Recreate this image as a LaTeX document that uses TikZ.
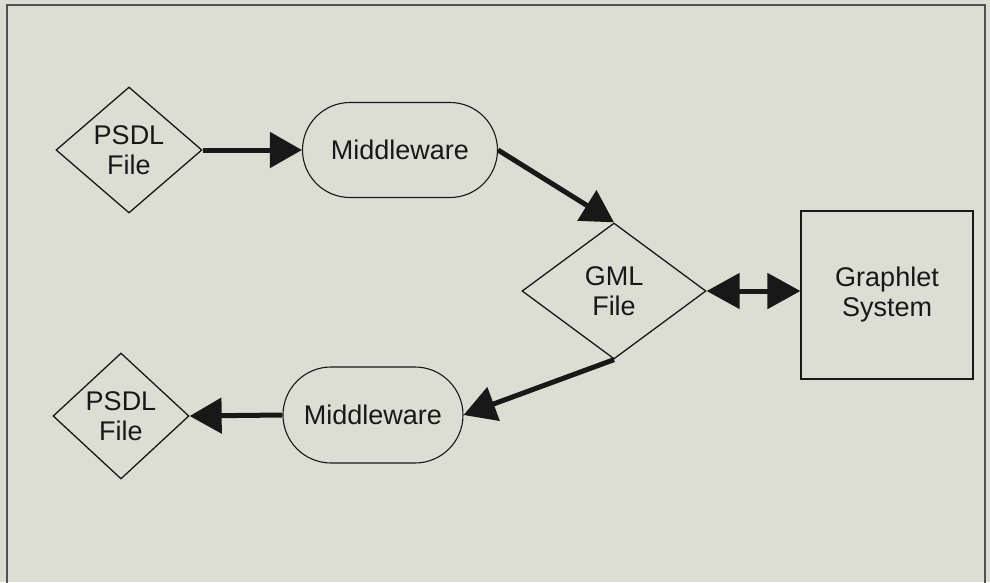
\documentclass[tikz,border=0pt]{standalone}
\usepackage{fontspec}
\setmainfont{Liberation Sans}
\usetikzlibrary{shapes.geometric,shapes.misc,arrows.meta}
\definecolor{paper}{RGB}{220,221,211}
\definecolor{ink}{RGB}{24,24,24}
\tikzset{
  lbl/.style={font=\fontsize{27}{30}\selectfont, text=ink, align=center, inner sep=0pt},
  filebox/.style={lbl, diamond, draw=ink, line width=1.3pt},
  procbox/.style={lbl, rounded rectangle, draw=ink, line width=1.1pt},
  sysbox/.style={lbl, rectangle, draw=ink, line width=1.1pt},
  flow/.style={draw=ink, line width=5pt, -{Triangle[length=32pt,width=35pt]}},
  biflow/.style={draw=ink, line width=5pt, {Triangle[length=33pt,width=35pt]}-{Triangle[length=33pt,width=35pt]}}
}
\begin{document}
\begin{tikzpicture}[x=1pt,y=-1pt]
  % page and frame
  \fill[paper] (0,0) rectangle (990,582);
  \useasboundingbox (0,0) rectangle (990,582);
  \draw[ink!75, line width=1.2pt] (7,600) -- (7,5) -- (985,5) -- (985,600);

  % nodes
  \node[filebox, minimum width=146pt, minimum height=126pt] (psdlA) at (129,150) {PSDL\\File};
  \node[procbox, minimum width=195pt, minimum height=95pt] (mwA) at (400,150) {Middleware};
  \node[filebox, minimum width=184pt, minimum height=136pt] (gml) at (614,291) {GML\\File};
  \node[sysbox, minimum width=172pt, minimum height=168pt] (gr) at (887,295) {Graphlet\\System};
  \node[procbox, minimum width=180pt, minimum height=96pt] (mwB) at (373,415) {Middleware};
  \node[filebox, minimum width=136pt, minimum height=126pt] (psdlB) at (121,416) {PSDL\\File};

  % connectors
  \draw[flow] (psdlA.east) -- (mwA.west);
  \draw[flow] (mwA.east) -- (gml.north);
  \draw[biflow] (gml.east) -- (gml.east -| gr.west);
  \draw[flow] (gml.south) -- (mwB.east);
  \draw[flow] (mwB.west) -- (psdlB.east);
\end{tikzpicture}
\end{document}
